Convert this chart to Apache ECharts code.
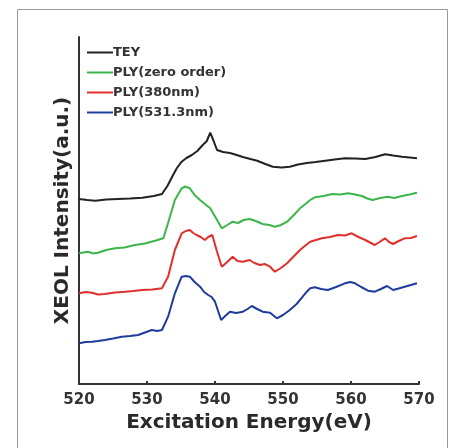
<!DOCTYPE html>
<html>
<head>
<meta charset="utf-8">
<script src="https://cdn.jsdelivr.net/npm/echarts@6/dist/echarts.min.js"></script>
<style>
  html, body { margin: 0; padding: 0; background: #fff; }
  #chart { width: 452px; height: 448px; }
</style>
</head>
<body>
<div id="chart"></div>
<script>
// Excitation energy (eV) / intensity pairs for each detection channel (offset, arbitrary units)
const tey = [
  [520, 185], [521.2, 184], [522.4, 183.3], [524, 184.5], [525.7, 185], [527.5, 185.5],
  [529.3, 186.3], [531, 188], [532.2, 190], [533, 198], [533.7, 207.3], [534.4, 216],
  [535.1, 222.3], [535.8, 226], [536.6, 229], [537.4, 233], [538.2, 239], [538.8, 243],
  [539.3, 251.3], [539.8, 243], [540.3, 234], [541.2, 232], [542.2, 231], [543.2, 229],
  [544.1, 227], [545.2, 225], [546.2, 223.3], [547.4, 220], [548.5, 217.3], [549.8, 216.5],
  [551, 217.3], [552.2, 219.5], [553.5, 221], [554.8, 222], [556.2, 223.3], [557.6, 224.5],
  [559.1, 225.7], [560.6, 225.5], [562.1, 225], [563.6, 227], [565, 229.7], [566.2, 228.5],
  [567.5, 227.3], [568.6, 226.5], [569.7, 225.7]
];
const plyZero = [
  [520, 130.7], [521.3, 132.3], [522.1, 130.5], [522.8, 131.3], [524, 134], [525.3, 135.7],
  [526.7, 136.5], [528.2, 139], [529.7, 140.5], [531.2, 143.3], [532.4, 145.7], [533.1, 161],
  [534.1, 184], [535.1, 195.7], [535.6, 197.5], [536.3, 195.7], [537, 189], [537.8, 184],
  [538.5, 180], [539.3, 175.7], [540.3, 164], [541, 155.7], [541.8, 159], [542.6, 162.3],
  [543.4, 161], [544.2, 164], [545.1, 165], [546, 163], [547, 160], [548, 159],
  [548.8, 157.3], [549.7, 159], [550.6, 162.3], [551.6, 169], [552.5, 175.7], [553.3, 180],
  [554, 184], [554.7, 186.7], [556, 188], [557.2, 190], [558.4, 189.5], [559.6, 190.7],
  [560.6, 189.5], [561.6, 188], [562.4, 185.5], [563.2, 184], [564.3, 186], [565.4, 187.3],
  [566.4, 186], [567.5, 188], [568.6, 189.5], [569.7, 191.3]
];
const ply380 = [
  [520, 90.7], [521, 92], [521.9, 91.3], [522.8, 89.5], [523.8, 90], [525.3, 91.5],
  [526.8, 92.3], [528, 93], [529.3, 94], [530.8, 94.5], [532.2, 95.7], [533.1, 107.3],
  [534.1, 134], [535.1, 150.7], [535.7, 153], [536.3, 154], [536.8, 151], [537.3, 149],
  [537.9, 147], [538.5, 144], [539, 147], [539.6, 149], [540.3, 132.3], [541, 117.3],
  [541.8, 122], [542.6, 127.3], [543.3, 123], [544.1, 122.3], [545.1, 124], [545.8, 121],
  [546.6, 119], [547.3, 120], [548.1, 117.3], [548.8, 112.3], [549.7, 116], [550.6, 120.7],
  [551.5, 127], [552.5, 134], [553.2, 138], [554, 142.3], [555.7, 145.7], [556.9, 147],
  [558.1, 149], [559.1, 148.5], [560.1, 150.7], [561.1, 147], [562.1, 144], [563.5, 139],
  [564.2, 142], [565, 145.7], [565.6, 142], [566.2, 140], [567, 143], [567.9, 145.7],
  [568.8, 146], [569.7, 148]
];
const ply531 = [
  [520, 40.7], [521, 42], [521.9, 42.3], [522.8, 43], [523.8, 44], [525, 45.5],
  [526.3, 47.3], [527.5, 48], [528.7, 49], [529.7, 51.5], [530.7, 54], [531.5, 53],
  [532.2, 54], [533.1, 67.3], [534.1, 90.7], [535.1, 107.3], [535.7, 108], [536.3, 107.3],
  [537, 102], [537.8, 97.3], [538.4, 92], [539, 89], [539.5, 87], [540, 82.3],
  [540.9, 64], [541.5, 68], [542.2, 72.3], [543.1, 71], [544.1, 72.3], [544.8, 75],
  [545.4, 78], [546.2, 75], [547, 72.3], [548.1, 71.3], [549.1, 65.7], [550, 69],
  [551, 74], [552, 80], [552.9, 87.3], [553.5, 92.3], [554, 95.7], [554.7, 96.7],
  [555.6, 95], [556.6, 94], [557.8, 97], [559.1, 100.7], [559.9, 102], [560.6, 100.7],
  [561.5, 97], [562.5, 93.3], [563.5, 92.3], [564.4, 95], [565.3, 98], [566.2, 94],
  [567, 95.5], [567.9, 97.3], [568.8, 99], [569.7, 100.7]
];

const seriesNames = ['TEY', 'PLY(zero order)', 'PLY(380nm)', 'PLY(531.3nm)'];
const seriesData = [tey, plyZero, ply380, ply531];
const seriesColors = ['#222222', '#3db54a', '#e0302c', '#1f3c9c'];
const xTicks = [520, 530, 540, 550, 560, 570];

const FONT = '"DejaVu Sans", "Liberation Sans", Arial, sans-serif';

const chart = echarts.init(document.getElementById('chart'), null, { renderer: 'canvas' });

chart.setOption({
  animation: false,
  backgroundColor: '#ffffff',
  textStyle: { fontFamily: FONT },
  graphic: [{
    type: 'rect',
    shape: { x: 17.5, y: 9.5, width: 430, height: 445 },
    style: { fill: 'none', stroke: '#9a9a9a', lineWidth: 1 },
    silent: true
  }],
  grid: { left: 79, right: 33, top: 37, bottom: 64, containLabel: false },
  legend: {
    orient: 'vertical',
    left: 82,
    top: 40,
    icon: 'rect',
    itemWidth: 26,
    itemHeight: 2,
    itemGap: 5,
    data: seriesNames,
    textStyle: { fontFamily: FONT, fontSize: 13, fontWeight: 'bold', color: '#333', lineHeight: 15, padding: [0, 0, 0, -5] }
  },
  xAxis: {
    type: 'value',
    min: xTicks[0],
    max: xTicks[xTicks.length - 1],
    interval: 10,
    name: 'Excitation Energy(eV)',
    nameLocation: 'middle',
    nameGap: 26,
    nameTextStyle: { fontFamily: FONT, fontSize: 20, fontWeight: 'bold', color: '#2a2a2a' },
    axisLine: { lineStyle: { color: '#333', width: 2 } },
    axisTick: { inside: true, length: 3, lineStyle: { color: '#333', width: 2 } },
    axisLabel: { fontFamily: FONT, fontSize: 15, fontWeight: 'bold', color: '#333', margin: 9 },
    splitLine: { show: false }
  },
  yAxis: {
    type: 'value',
    min: 0,
    max: 347,
    name: 'XEOL Intensity(a.u.)',
    nameLocation: 'middle',
    nameGap: 6,
    nameTextStyle: { fontFamily: FONT, fontSize: 20, fontWeight: 'bold', color: '#2a2a2a' },
    axisLine: { show: true, lineStyle: { color: '#333', width: 2 } },
    axisTick: { show: false },
    axisLabel: { show: false },
    splitLine: { show: false }
  },
  series: seriesNames.map((name, i) => ({
    name: name,
    type: 'line',
    data: seriesData[i],
    showSymbol: false,
    symbol: 'none',
    smooth: false,
    lineStyle: { color: seriesColors[i], width: 2 },
    itemStyle: { color: seriesColors[i] }
  }))
});
</script>
</body>
</html>
